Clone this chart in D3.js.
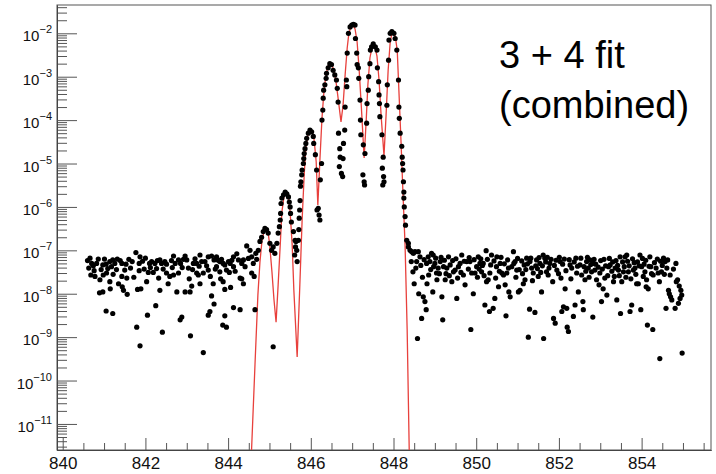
<!DOCTYPE html>
<html lang="en">
<head>
  <meta charset="utf-8">
  <title>3 + 4 fit (combined)</title>
  <script src="https://cdn.jsdelivr.net/npm/d3@7"></script>
  <style>
    body { margin: 0; background: #fff; }
    text { font-family: "Liberation Sans", Arial, Helvetica, sans-serif; }
  </style>
</head>
<body>
  <div id="chart-area"></div>

  <script>
    // ---- data: [frequency, intensity] ----
    var noiseLeft = [
      [840.60,5.8e-8],[840.63,3.9e-8],[840.66,6.6e-8],[840.68,2.7e-8],[840.70,5.0e-8],[840.74,4.4e-8],
      [840.76,3.4e-8],[840.78,2.5e-8],[840.82,5.0e-8],[840.86,6.3e-8],[840.89,1.05e-8],[840.90,2.1e-8],
      [840.93,3.6e-8],[840.97,4.6e-8],[840.97,1.1e-8],[840.98,2.7e-8],[841.01,6.3e-8],[841.05,4.8e-8],
      [841.05,4.0e-9],[841.06,3.0e-8],[841.09,3.8e-8],[841.14,5.5e-8],[841.14,1.9e-8],[841.15,1.3e-8],
      [841.18,4.2e-8],[841.21,6.0e-8],[841.21,3.5e-9],[841.22,2.8e-8],[841.26,5.0e-8],[841.30,3.6e-8],
      [841.32,6.3e-8],[841.35,1.7e-8],[841.39,5.8e-8],[841.43,5.0e-8],[841.43,2.5e-8],[841.44,1.45e-8],
      [841.47,1.2e-8],[841.50,3.5e-8],[841.53,4.8e-8],[841.55,2.3e-8],[841.56,9.7e-9],[841.60,6.2e-8],
      [841.64,3.9e-8],[841.68,5.5e-8],[841.72,2.4e-8],[841.77,8.9e-8],[841.79,1.7e-9],[841.81,1.26e-8],
      [841.85,5.0e-8],[841.85,3.4e-8],[841.87,7.1e-8],[841.87,6.3e-10],[841.89,1.3e-8],[841.93,5.6e-8],
      [841.97,3.7e-8],[842.00,6.6e-8],[842.03,1.9e-8],[842.05,3.2e-9],[842.07,3.1e-8],[842.10,5.0e-8],
      [842.12,4.0e-8],[842.15,5.5e-8],[842.19,3.1e-8],[842.23,5.0e-8],[842.25,5.3e-9],[842.27,3.8e-8],
      [842.29,5.8e-8],[842.32,2.3e-8],[842.35,6.0e-8],[842.35,1.2e-8],[842.39,5.0e-8],[842.41,1.3e-9],
      [842.43,3.7e-8],[842.47,5.5e-8],[842.51,4.8e-8],[842.51,3.0e-8],[842.55,1.7e-8],[842.59,2.5e-8],
      [842.63,5.8e-8],[842.65,4.0e-8],[842.68,7.4e-8],[842.68,2.7e-8],[842.72,5.0e-8],[842.76,1.1e-8],
      [842.80,6.0e-8],[842.80,3.0e-8],[842.84,2.5e-9],[842.85,5.0e-8],[842.88,2.9e-9],[842.89,4.0e-8],
      [842.92,6.2e-8],[842.96,7.4e-8],[842.96,1.1e-8],[843.00,6.0e-8],[843.04,3.9e-8],[843.06,2.2e-8],
      [843.08,1.1e-8],[843.09,1.07e-9],[843.12,1.5e-8],[843.14,3.6e-8],[843.16,5.0e-8],[843.20,6.4e-8],
      [843.24,5.0e-8],[843.24,3.0e-8],[843.28,2.7e-8],[843.30,4.3e-8],[843.32,7.8e-8],[843.32,1.7e-8],
      [843.36,5.5e-8],[843.40,3.0e-8],[843.40,4.4e-10],[843.44,5.5e-8],[843.48,4.4e-8],[843.52,7.1e-8],
      [843.52,3.5e-8],[843.52,3.2e-9],[843.56,3.9e-9],[843.57,2.5e-8],[843.60,7.4e-8],[843.60,8.9e-9],
      [843.64,1.7e-8],[843.66,6.0e-8],[843.66,5.8e-9],[843.69,3.7e-8],[843.72,7.1e-8],[843.72,4.2e-8],
      [843.76,5.9e-8],[843.80,5.5e-8],[843.80,3.2e-8],[843.82,2.2e-8],[843.84,6.2e-8],[843.87,1.9e-9],
      [843.88,5.0e-8],[843.88,1.9e-8],[843.92,4.6e-8],[843.92,1.26e-8],[843.92,3.1e-9],[843.96,3.5e-8],
      [843.96,1.7e-9],[844.01,5.5e-8],[844.03,3.1e-8],[844.05,5.0e-8],[844.06,1.4e-8],[844.09,5.9e-8],
      [844.13,7.1e-8],[844.13,4.2e-8],[844.13,4.8e-9],[844.17,3.3e-8],[844.21,8.3e-8],[844.25,6.0e-8],
      [844.29,2.3e-8],[844.29,4.3e-9],[844.33,5.0e-8],[844.33,2.2e-8],[844.37,6.0e-8],[844.37,1.7e-8],
      [844.41,4.2e-8],[844.45,1.26e-7],[844.49,6.5e-8],[844.53,1.0e-7],[844.57,7.1e-8],[844.57,3.0e-8],
      [844.61,5.0e-8],[844.63,2.5e-8],[844.65,4.3e-9],[844.67,8.5e-8],[844.69,6.2e-8]
    ];

    var peaksLow = [
      [844.73,1.0e-7],[844.77,1.6e-7],[844.81,2.0e-7],[844.85,2.7e-7],[844.89,3.2e-7],[844.93,3.0e-7],
      [844.97,2.5e-7],[845.01,1.45e-7],[845.05,1.0e-7],[845.09,1.2e-7],[845.09,6.0e-10],[845.13,8.5e-8],
      [845.18,1.45e-7],[845.21,2.5e-7],[845.24,3.5e-7],[845.26,5.0e-7],[845.27,7.1e-7],[845.28,1.2e-6],
      [845.30,1.6e-6],[845.34,1.9e-6],[845.38,2.2e-6],[845.42,2.0e-6],[845.46,1.7e-6],[845.48,1.3e-6],
      [845.50,1.0e-6],[845.51,7.1e-7],[845.53,4.5e-7],[845.58,2.7e-7],[845.61,7.8e-8],[845.62,1.7e-7],
      [845.63,1.2e-7],[845.64,1.6e-7],[845.66,1.0e-7],[845.67,5.5e-8],[845.70,1.7e-7],[845.71,3.0e-7],
      [845.72,5.5e-7],[845.73,8.5e-7],[845.74,1.4e-6],[845.75,3.0e-6],[845.76,3.8e-6],[845.78,5.5e-6],
      [845.79,7.1e-6],[845.82,1.0e-5],[845.83,1.3e-5],[845.84,1.7e-5],[845.86,2.2e-5],[845.88,2.9e-5],
      [845.90,3.8e-5],[845.94,5.0e-5],[845.98,5.9e-5],[846.02,5.4e-5],[846.06,4.2e-5],[846.07,2.9e-5],
      [846.11,1.6e-5],[846.14,7.1e-6],[846.15,8.5e-7],[846.18,9.3e-7],[846.20,6.5e-7],[846.22,5.0e-7],
      [846.23,4.2e-6],[846.26,1.0e-5]
    ];

    var peaksHigh = [
      [846.27,1.0e-4],[846.29,1.7e-4],[846.30,3.2e-4],[846.31,4.9e-4],[846.34,6.5e-4],[846.37,9.2e-4],
      [846.38,1.2e-3],[846.42,1.6e-3],[846.46,2.0e-3],[846.50,1.9e-3],[846.54,1.4e-3],[846.58,1.1e-3],
      [846.62,8.4e-4],[846.64,5.4e-4],[846.66,2.6e-4],[846.67,5.0e-5],[846.69,8.5e-6],[846.70,2.2e-5],
      [846.71,1.4e-5],[846.74,5.9e-6],[846.77,5.0e-6],[846.78,1.3e-5],[846.79,2.9e-5],[846.82,5.9e-5],
      [846.83,2.0e-4],[846.86,8.4e-4],[846.87,5.9e-4],[846.88,3.5e-3],[846.91,1.0e-2],[846.95,1.4e-2],
      [846.99,1.55e-2],[847.03,1.6e-2],[847.07,1.55e-2],[847.08,7.6e-3],[847.11,3.5e-3],[847.12,1.9e-3],
      [847.15,1.6e-3],[847.16,9.2e-4],[847.19,2.9e-4],[847.20,1.0e-4],[847.21,4.6e-5],[847.26,5.5e-6],
      [847.27,2.7e-5],[847.29,3.8e-6],[847.30,3.2e-6],[847.31,1.7e-5],[847.35,8.5e-5],[847.36,2.4e-4],
      [847.39,4.9e-4],[847.40,1.0e-3],[847.43,2.0e-3],[847.44,4.1e-3],[847.47,4.9e-3],[847.51,5.7e-3],
      [847.56,4.9e-3],[847.60,4.1e-3],[847.61,1.6e-3],[847.64,7.7e-4],[847.65,3.8e-4],[847.66,2.4e-4],
      [847.67,1.2e-4],[847.72,4.6e-5],[847.73,7.8e-6],[847.74,3.2e-6],[847.75,1.4e-5],[847.76,5.0e-6],
      [847.77,3.8e-6],[847.84,2.2e-4],[847.85,6.5e-4],[847.88,2.4e-3],[847.89,7.0e-3],[847.92,1.0e-2],
      [847.96,1.1e-2],[848.01,1.0e-2],[848.04,7.6e-3],[848.08,4.1e-3],[848.12,8.4e-4],[848.13,2.0e-4],
      [848.14,1.1e-4],[848.16,5.0e-5],[848.20,2.5e-5],[848.21,1.4e-5],[848.22,1.0e-5],[848.23,7.1e-6],
      [848.24,3.8e-6],[848.25,2.2e-6],[848.25,1.6e-6],[848.26,1.0e-6],[848.28,6.0e-7],[848.29,3.8e-7],
      [848.32,1.7e-7],[848.36,1.45e-7]
    ];

    var noiseRight = [
      [848.36,1.2e-7],[848.40,1.0e-7],[848.43,5.5e-8],[848.44,9.3e-8],[848.47,3.2e-8],[848.48,8.5e-8],
      [848.50,1.7e-8],[848.52,9.3e-8],[848.54,3.9e-8],[848.56,5.5e-8],[848.58,9.3e-10],[848.60,9.3e-8],
      [848.61,1.0e-8],[848.64,7.1e-8],[848.66,4.5e-8],[848.68,2.7e-9],[848.70,2.4e-8],[848.72,8.5e-9],
      [848.74,6.1e-8],[848.76,6.6e-9],[848.79,4.3e-9],[848.80,5.0e-8],[848.81,1.7e-8],[848.84,7.1e-8],
      [848.85,2.7e-8],[848.88,5.5e-8],[848.90,3.6e-8],[848.92,8.5e-8],[848.95,1.1e-8],[848.96,7.8e-8],
      [848.97,4.2e-8],[849.00,5.0e-8],[849.02,6.6e-8],[849.04,3.0e-8],[849.05,2.1e-8],[849.08,3.9e-8],
      [849.11,2.9e-8],[849.13,5.5e-8],[849.15,6.9e-8],[849.17,8.5e-9],[849.19,2.5e-9],[849.21,4.2e-8],
      [849.23,5.9e-8],[849.25,2.1e-8],[849.27,2.9e-8],[849.29,3.9e-8],[849.33,7.1e-8],[849.35,2.6e-8],
      [849.37,4.6e-8],[849.41,1.9e-8],[849.43,5.8e-8],[849.45,3.2e-8],[849.49,3.5e-8],[849.51,6.4e-8],
      [849.53,7.8e-9],[849.55,2.3e-8],[849.57,4.2e-8],[849.61,5.0e-8],[849.63,3.1e-8],[849.65,7.8e-8],
      [849.69,2.7e-8],[849.71,5.6e-8],[849.73,1.6e-8],[849.77,5.5e-8],[849.81,3.7e-8],[849.83,6.8e-8],
      [849.85,5.5e-8],[849.87,1.5e-9],[849.89,3.0e-8],[849.93,1.0e-8],[849.95,6.1e-8],[849.97,3.0e-8],
      [850.01,4.2e-8],[850.03,2.4e-8],[850.05,7.1e-8],[850.07,3.7e-8],[850.09,5.0e-8],[850.11,6.4e-8],
      [850.13,3.2e-8],[850.15,4.5e-8],[850.17,5.0e-8],[850.19,2.6e-8],[850.21,5.5e-9],[850.24,9.8e-8],
      [850.25,1.9e-8],[850.27,6.2e-8],[850.29,2.1e-8],[850.32,3.9e-9],[850.33,3.0e-8],[850.35,4.6e-8],
      [850.37,7.8e-8],[850.41,4.6e-9],[850.43,5.7e-8],[850.45,7.8e-9],[850.47,2.3e-8],[850.49,4.2e-8],
      [850.50,7.1e-8],[850.54,1.45e-8],[850.56,3.3e-8],[850.58,5.0e-8],[850.60,6.9e-8],[850.62,3.0e-8],
      [850.66,2.7e-8],[850.68,4.9e-8],[850.70,1.6e-8],[850.72,3.1e-9],[850.74,3.0e-8],[850.76,6.0e-8],
      [850.78,3.9e-8],[850.79,1.1e-8],[850.82,8.5e-9],[850.86,4.2e-8],[850.90,9.3e-8],[850.91,5.0e-8],
      [850.94,5.5e-8],[850.96,2.4e-8],[850.98,3.5e-8],[851.00,6.5e-8],[851.02,1.1e-8],[851.04,3.6e-8],
      [851.06,1.2e-8],[851.10,5.7e-8],[851.12,2.9e-8],[851.14,1.7e-8],[851.16,4.6e-8],[851.18,2.1e-8],
      [851.20,3.6e-8],[851.22,6.6e-8],[851.24,4.9e-8],[851.26,1.0e-9],[851.29,4.4e-9],[851.30,5.5e-8],
      [851.32,6.6e-8],[851.34,3.9e-8],[851.36,2.0e-8],[851.38,3.0e-8],[851.42,3.7e-9],[851.44,4.4e-8],
      [851.46,6.0e-8],[851.48,3.8e-8],[851.50,2.5e-8],[851.52,6.8e-8],[851.54,5.0e-8],[851.56,3.1e-8],
      [851.58,1.1e-8],[851.60,4.4e-8],[851.62,7.8e-8],[851.63,9.3e-10],[851.66,6.6e-8],[851.68,5.4e-8],
      [851.70,3.2e-8],[851.72,6.9e-8],[851.74,2.7e-8],[851.76,3.9e-8],[851.78,5.0e-8],[851.81,6.2e-8],
      [851.85,1.9e-8],[851.87,2.7e-9],[851.89,4.5e-8],[851.91,2.1e-9],[851.93,5.9e-8],[851.95,3.5e-8],
      [851.99,2.9e-8],[852.01,6.9e-8],[852.03,5.5e-8],[852.05,2.3e-8],[852.07,3.9e-9],[852.09,4.8e-8],
      [852.11,5.0e-9],[852.13,6.3e-8],[852.15,1.3e-8],[852.17,3.4e-8],[852.19,4.6e-9],[852.20,1.7e-9],
      [852.23,1.35e-9],[852.25,6.1e-8],[852.27,4.6e-8],[852.29,2.2e-8],[852.31,3.9e-8],[852.35,3.0e-9],
      [852.37,5.4e-8],[852.39,5.5e-9],[852.41,6.6e-8],[852.43,3.0e-8],[852.45,4.3e-8],[852.47,1.1e-8],
      [852.51,4.6e-8],[852.53,6.6e-8],[852.55,2.7e-8],[852.58,6.6e-9],[852.59,4.3e-9],[852.61,4.2e-8],
      [852.63,2.1e-8],[852.65,3.3e-8],[852.67,5.5e-8],[852.69,6.9e-8],[852.71,3.9e-8],[852.73,2.4e-8],
      [852.75,6.0e-8],[852.77,4.7e-8],[852.79,3.2e-8],[852.82,2.9e-9],[852.83,5.0e-8],[852.85,6.2e-8],
      [852.87,3.5e-8],[852.89,4.8e-8],[852.91,2.1e-8],[852.95,4.1e-8],[852.97,1.6e-8],[852.99,3.0e-8],
      [853.01,5.8e-8],[853.03,6.6e-9],[853.05,3.7e-8],[853.07,1.3e-8],[853.09,6.2e-8],[853.11,2.3e-8],
      [853.13,4.4e-8],[853.16,9.3e-9],[853.18,2.6e-8],[853.20,4.2e-8],[853.22,6.5e-8],[853.24,4.6e-8],
      [853.28,3.3e-8],[853.30,5.4e-8],[853.32,1.9e-8],[853.34,2.5e-8],[853.36,3.9e-8],[853.38,5.8e-8],
      [853.40,7.2e-9],[853.42,4.5e-8],[853.44,3.5e-8],[853.46,2.6e-8],[853.48,7.1e-8],[853.49,3.5e-9],
      [853.52,1.9e-8],[853.54,5.4e-8],[853.56,3.2e-8],[853.58,4.2e-8],[853.60,7.1e-8],[853.62,2.4e-8],
      [853.64,7.8e-8],[853.66,5.6e-8],[853.68,3.2e-8],[853.70,4.4e-8],[853.72,3.9e-9],[853.74,2.2e-8],
      [853.76,5.5e-9],[853.78,6.4e-8],[853.80,3.5e-8],[853.82,5.2e-8],[853.84,3.9e-8],[853.86,2.8e-8],
      [853.88,1.7e-8],[853.90,5.4e-8],[853.92,1.7e-8],[853.94,4.4e-8],[853.96,7.8e-8],[853.98,4.3e-9],
      [854.00,4.2e-8],[854.02,6.5e-8],[854.04,2.5e-8],[854.06,4.8e-8],[854.08,3.2e-8],[854.10,5.9e-8],
      [854.11,1.45e-8],[854.12,2.1e-8],[854.14,1.9e-9],[854.16,1.3e-8],[854.18,4.3e-8],[854.20,7.1e-8],
      [854.22,4.2e-8],[854.24,2.9e-8],[854.27,1.5e-9],[854.28,2.7e-8],[854.31,5.2e-8],[854.35,3.9e-8],
      [854.38,6.3e-8],[854.40,3.0e-8],[854.43,1.9e-8],[854.44,3.2e-10],[854.46,5.6e-8],[854.48,3.2e-8],
      [854.50,4.5e-8],[854.53,6.6e-8],[854.55,2.8e-8],[854.57,5.5e-8],[854.59,4.6e-9],[854.61,3.9e-8],
      [854.63,6.0e-8],[854.65,1.2e-8],[854.67,1.0e-8],[854.69,2.7e-8],[854.70,8.5e-9],[854.73,7.2e-9],
      [854.77,3.7e-8],[854.81,4.6e-9],[854.83,5.0e-8],[854.84,1.9e-8],[854.87,2.1e-8],[854.89,6.0e-9],
      [854.91,1.5e-8],[854.93,7.8e-9],[854.95,1.2e-8],[854.97,9.3e-9],[854.98,4.3e-10]
    ];

    // fitted model (red line)
    var fitCurve = [
      [844.55,1e-12],[844.65,2.3e-10],[844.72,9.3e-9],[844.77,5.4e-8],[844.82,1.7e-7],[844.87,2.8e-7],
      [844.91,3.1e-7],[844.94,2.9e-7],[844.98,2.1e-7],[845.01,1.2e-7],[845.06,3.2e-8],[845.11,7.2e-9],
      [845.16,2.2e-9],[845.21,1.6e-8],[845.26,1.3e-7],[845.30,7.6e-7],[845.35,1.7e-6],[845.39,2.2e-6],
      [845.43,2.1e-6],[845.46,1.6e-6],[845.50,7.6e-7],[845.55,1.3e-7],[845.59,1.2e-8],[845.67,3.5e-10],
      [845.73,1.2e-8],[845.79,5.0e-7],[845.84,5.5e-6],[845.88,2.3e-5],[845.93,4.6e-5],[845.98,5.9e-5],
      [846.03,5.5e-5],[846.08,3.5e-5],[846.13,1.1e-5],[846.17,1.1e-6],[846.22,1.2e-5],[846.27,1.1e-4],
      [846.32,4.9e-4],[846.37,1.15e-3],[846.42,1.8e-3],[846.46,2.1e-3],[846.51,1.9e-3],[846.56,1.35e-3],
      [846.61,7.6e-4],[846.66,3.2e-4],[846.73,9.1e-5],[846.78,2.2e-4],[846.83,1.1e-3],[846.88,4.6e-3],
      [846.92,1.0e-2],[846.97,1.4e-2],[847.02,1.5e-2],[847.07,1.26e-2],[847.12,6.3e-3],[847.17,1.4e-3],
      [847.22,2.2e-4],[847.29,1.35e-5],[847.34,1.0e-4],[847.38,6.5e-4],[847.43,2.7e-3],[847.48,4.8e-3],
      [847.52,5.4e-3],[847.55,4.8e-3],[847.60,3.0e-3],[847.65,8.4e-4],[847.70,1.3e-4],[847.77,1.5e-5],
      [847.82,1.3e-4],[847.87,1.4e-3],[847.92,6.3e-3],[847.96,1.0e-2],[848.00,1.05e-2],[848.04,8.7e-3],
      [848.09,4.1e-3],[848.13,4.9e-4],[848.18,3.5e-5],[848.23,1.9e-6],[848.28,1.3e-7],[848.33,1.5e-9],
      [848.38,2.5e-12],[848.39,1e-12]
    ];

    var xTicks = [840, 842, 844, 846, 848, 850, 852, 854];
    var yDecades = [-11, -10, -9, -8, -7, -6, -5, -4, -3, -2];
    var labelLines = ["3 + 4 fit", "(combined)"];

    // ---- layout ----
    var margin = { top: 5, left: 57, bottom: 24, right: 5 };
    var svgWidth = 716;
    var svgHeight = 474;
    var width = svgWidth - margin.left - margin.right;
    var height = svgHeight - margin.top - margin.bottom;

    var svg = d3.select("#chart-area")
                .append("svg")
                .attr("width", svgWidth)
                .attr("height", svgHeight);

    var g = svg.append("g")
               .attr("transform", "translate(" + margin.left + "," + margin.top + ")");

    var x = d3.scaleLinear()
              .domain([839.862, 855.678])
              .range([0, width]);

    var y = d3.scaleLog()
              .domain([2.51e-12, 0.0449])
              .range([height, 0]);

    // clip for the fit line, which runs off the bottom
    svg.append("defs").append("clipPath")
       .attr("id", "plot-clip")
       .append("rect")
       .attr("width", width)
       .attr("height", height);

    // frame
    g.append("rect")
     .attr("width", width)
     .attr("height", height)
     .attr("fill", "none")
     .attr("stroke", "#555")
     .attr("stroke-width", 1);

    // x axis: minor ticks every 0.5, major every 2, all pointing inward
    var xMinor = d3.range(840, 855.6, 0.5).filter((v) => xTicks.indexOf(v) < 0);
    g.append("g")
     .attr("class", "x-minor")
     .attr("transform", "translate(0," + height + ")")
     .call(d3.axisBottom(x).tickValues(xMinor).tickSize(-7).tickSizeOuter(0).tickFormat(""));

    g.append("g")
     .attr("class", "x-axis")
     .attr("transform", "translate(0," + height + ")")
     .call(d3.axisBottom(x).tickValues(xTicks).tickSize(-12).tickSizeOuter(0).tickPadding(7)
             .tickFormat(d3.format("d")))
     .selectAll("text")
       .attr("font-size", 17)
       .attr("fill", "#111");

    // y axis: decade ticks long, 2..9 ticks short
    var yMinor = [];
    for (var d = -12; d <= -2; d++) {
      for (var k = 2; k <= 9; k++) {
        var v = k * Math.pow(10, d);
        if (v > y.domain()[0] && v < y.domain()[1]) yMinor.push(v);
      }
    }
    g.append("g")
     .attr("class", "y-minor")
     .call(d3.axisLeft(y).tickValues(yMinor).tickSize(-10).tickSizeOuter(0).tickFormat(""));

    g.append("g")
     .attr("class", "y-axis")
     .call(d3.axisLeft(y).tickValues(yDecades.map((e) => Math.pow(10, e)))
             .tickSize(-20).tickSizeOuter(0).tickFormat(""));

    g.selectAll(".domain").attr("stroke", "#444");
    g.selectAll(".tick line").attr("stroke", "#555");

    // y labels as 10 with superscript exponent
    var yLabels = g.append("g").attr("class", "y-labels");
    yDecades.forEach((e) => {
      var t = yLabels.append("text")
                     .attr("x", -5)
                     .attr("y", y(Math.pow(10, e)) + 8)
                     .attr("text-anchor", "end")
                     .attr("font-size", 15)
                     .attr("fill", "#111");
      t.append("tspan").text("10");
      t.append("tspan")
       .attr("font-size", 11)
       .attr("dy", -8)
       .text("\u2212" + (-e));
    });

    // fit
    var line = d3.line()
                 .x((d) => x(d[0]))
                 .y((d) => y(d[1]));

    g.append("path")
     .datum(fitCurve)
     .attr("clip-path", "url(#plot-clip)")
     .attr("fill", "none")
     .attr("stroke", "#e8403c")
     .attr("stroke-width", 1.3)
     .attr("d", line);

    // data points
    var points = noiseLeft.concat(peaksLow, peaksHigh, noiseRight);
    g.selectAll("circle.pt")
     .data(points)
     .enter()
     .append("circle")
     .attr("class", "pt")
     .attr("cx", (d) => x(d[0]))
     .attr("cy", (d) => y(d[1]))
     .attr("r", 2.6)
     .attr("fill", "#000");

    // annotation
    var note = svg.append("text")
                  .attr("x", 499)
                  .attr("y", 68)
                  .attr("font-size", 38)
                  .attr("fill", "#000");
    note.selectAll("tspan")
        .data(labelLines)
        .enter()
        .append("tspan")
        .attr("x", 499)
        .attr("dy", (d, i) => i === 0 ? 0 : 50)
        .text((d) => d);
  </script>
</body>
</html>
